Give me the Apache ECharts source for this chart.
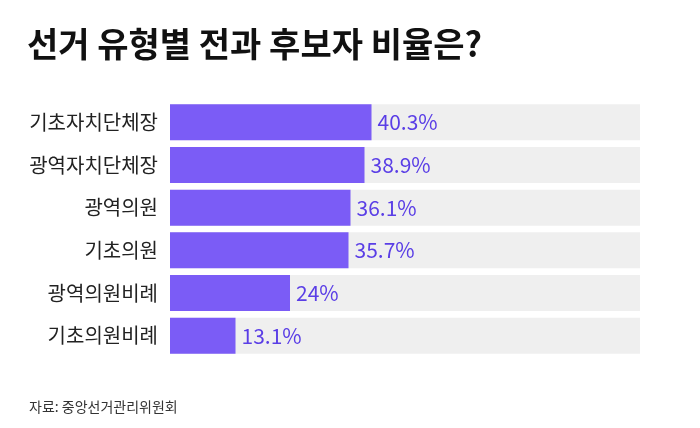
<!DOCTYPE html>
<html><head><meta charset="utf-8">
<script src="https://cdn.jsdelivr.net/npm/echarts@6/dist/echarts.min.js"></script>
<style>html,body{margin:0;padding:0;background:#fff}#c{width:700px;height:428px}</style>
</head><body><div id="c"></div>
<script>
const categories = ['기초자치단체장','광역자치단체장','광역의원','기초의원','광역의원비례','기초의원비례'];
const values = [40.3, 38.9, 36.1, 35.7, 24, 13.1];
const labels = ['40.3%','38.9%','36.1%','35.7%','24%','13.1%'];
const axisMax = 94;
const chart = echarts.init(document.getElementById('c'));
const font = '"Noto Sans CJK KR", "Noto Sans", sans-serif';
chart.setOption({
  backgroundColor: '#fff',
  animation: false,
  title: [
    {text: '선거 유형별 전과 후보자 비율은?', left: 22, top: 22,
     textStyle: {fontFamily: font, fontSize: 34, fontWeight: 'bold', color: '#111'}},
    {text: '자료: 중앙선거관리위원회', left: 24, top: 395,
     textStyle: {fontFamily: font, fontSize: 14, fontWeight: 'normal', color: '#333'}}
  ],
  grid: {left: 170, right: 60, top: 101, bottom: 71},
  xAxis: {type: 'value', min: 0, max: axisMax, show: false},
  yAxis: {type: 'category', inverse: true, data: categories,
    axisLine: {show: false}, axisTick: {show: false},
    axisLabel: {fontFamily: font, fontSize: 20, color: '#222', margin: 12}},
  series: [
    {type: 'bar', data: categories.map(() => axisMax), barWidth: 36, barGap: '-100%',
     itemStyle: {color: '#efefef'}, silent: true},
    {type: 'bar', data: values, barWidth: 36,
     itemStyle: {color: '#7b5cf6'},
     label: {show: true, position: 'right', distance: 6,
       formatter: p => labels[p.dataIndex],
       fontFamily: font, fontSize: 21, color: '#5a3ee6'}}
  ]
});
</script></body></html>
